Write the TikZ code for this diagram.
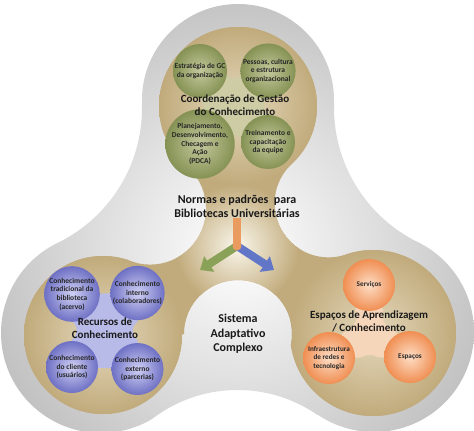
\documentclass[tikz,border=0pt]{standalone}
\usepackage{fontspec}
\setmainfont{Carlito}
\usetikzlibrary{arrows.meta}

\definecolor{greyrim}{RGB}{190,190,190}
\definecolor{tandark}{RGB}{193,171,124}
\definecolor{tanlight}{RGB}{228,216,188}
\definecolor{tanglow}{RGB}{250,246,234}
\definecolor{olivedark}{RGB}{133,146,84}
\definecolor{olivelight}{RGB}{196,200,156}
\definecolor{olivepale}{RGB}{205,204,165}
\definecolor{bluedark}{RGB}{110,112,196}
\definecolor{bluelight}{RGB}{208,208,244}
\definecolor{bluepale}{RGB}{184,186,232}
\definecolor{orangedark}{RGB}{240,142,82}
\definecolor{orangelight}{RGB}{253,222,198}
\definecolor{orangepale}{RGB}{246,214,186}
\definecolor{arrowgreen}{RGB}{138,162,88}
\definecolor{arrowblue}{RGB}{98,118,200}
\definecolor{arroworange}{RGB}{234,156,96}

\begin{document}
\begin{tikzpicture}[x=1pt, y=1pt,
  title/.style={font=\fontsize{11}{13}\selectfont\bfseries, align=center, text=black!90},
  bigtitle/.style={title, font=\fontsize{12}{14.5}\selectfont\bfseries},
  ball/.style={circle, inner sep=0pt, minimum size=52pt, shade, align=center, text=black!85, font=\fontsize{7.5}{8.7}\selectfont\bfseries},
  greenball/.style={ball, minimum size=54pt, inner color=olivelight, outer color=olivedark},
  blueball/.style={ball, inner color=bluelight, outer color=bluedark},
  orangeball/.style={ball, font=\fontsize{7.2}{8.5}\selectfont\bfseries, inner color=orangelight, outer color=orangedark},
  flow/.style={line width=8pt, -{Triangle[width=18pt,length=11pt]}}]

  \useasboundingbox (0,0) rectangle (474,-431);

  % grey body with three white bays
  \begin{scope}[even odd rule]
    \clip (-200,200) rectangle (700,-700)
      (-8,-108) circle (150) (484,-107.5) circle (150) (237.5,-530.4) circle (140.4);
    \begin{scope}[nonzero rule]
      \clip (238,-100) circle (96) (101,-333) circle (100) (374,-332) circle (100)
        (238,-100) -- (-8,-108) -- (101,-333) -- (237.5,-530.4) -- (374,-332) -- (484,-107.5) -- cycle;
      \shade[inner color=white, outer color=greyrim] (238,-250) circle (275);
    \end{scope}
  \end{scope}

  % tan flask
  \begin{scope}[even odd rule]
    \clip (-200,200) rectangle (700,-700)
      (150.1,-208.6) circle (56) (328.6,-203.4) circle (54) (238,-334) circle (54);
    \begin{scope}[nonzero rule]
      \clip (238,-106) circle (79) (103,-335) circle (79) (373,-333) circle (83)
        (238,-106) -- (150.1,-208.6) -- (103,-335) -- (238,-334) -- (373,-333) -- (328.6,-203.4) -- cycle;
      \fill[tandark] (0,0) rectangle (474,-431);
      \shade[inner color=tanlight, outer color=tandark] (238,-106) circle (79);
      \shade[inner color=tanlight, outer color=tandark] (103,-335) circle (79);
      \shade[inner color=tanlight, outer color=tandark] (373,-333) circle (83);
      \shade[inner color=tanglow, outer color=tandark] (237,-246) circle (62);
    \end{scope}
  \end{scope}

  % pale crosses between the balls
  \begin{scope}[even odd rule]
    \clip (-200,200) rectangle (700,-700)
      (234,-71) circle (8) (234,-143) circle (8) (194,-107.5) circle (10) (274,-106.5) circle (10);
    \fill[olivepale] (200,-71) -- (268,-71) -- (268,-142) -- (200,-144) -- cycle;
  \end{scope}
  \begin{scope}[even odd rule]
    \clip (-200,200) rectangle (700,-700)
      (104.8,-284.4) circle (8) (104.8,-377.1) circle (8) (65.9,-330.5) circle (11) (143.6,-331) circle (11);
    \fill[bluepale] (72,-294) -- (137.5,-293) -- (137.5,-369) -- (72,-367) -- cycle;
  \end{scope}
  \begin{scope}[even odd rule]
    \clip (-200,200) rectangle (700,-700)
      (339.6,-316) circle (17) (399.4,-315) circle (17) (369.5,-372) circle (17);
    \fill[orangepale] (369,-285) -- (329,-358) -- (410,-357) -- cycle;
  \end{scope}

  % balls
  \node[greenball] (estrategia) at (200,-71) {Estratégia de GC\\da organização};
  \node[greenball] (pessoas) at (268,-71) {Pessoas, cultura\\e estrutura\\organizacional};
  \node[greenball] (planejamento) at (200,-144) {Planejamento,\\Desenvolvimento,\\Checagem e\\Ação\\(PDCA)};
  \node[greenball] (treinamento) at (268,-142) {Treinamento e\\capacitação\\da equipe};

  \node[blueball] (acervo) at (72,-294) {Conhecimento\\tradicional da\\biblioteca\\(acervo)};
  \node[blueball] (colaboradores) at (137.5,-293) {Conhecimento\\interno\\(colaboradores)};
  \node[blueball] (usuarios) at (72,-367) {Conhecimento\\do cliente\\(usuários)};
  \node[blueball] (parcerias) at (137.5,-369) {Conhecimento\\externo\\(parcerias)};

  \node[orangeball] (servicos) at (369,-285) {Serviços};
  \node[orangeball] (infra) at (329,-358) {Infraestrutura\\de redes e\\tecnologia};
  \node[orangeball] (espacos) at (410,-357) {Espaços};

  % arrows out of the hub
  \coordinate (hub) at (237,-246);
  \coordinate (stemtop) at (237,-218);
  \coordinate (tipgreen) at (200,-270);
  \coordinate (tipblue) at (274,-270);
  \draw[flow, arrowgreen] (hub) -- (tipgreen);
  \draw[flow, arrowblue] (hub) -- (tipblue);
  \draw[line width=8pt, arroworange] (stemtop) -- (hub);
  \fill[arroworange] (hub) circle (4.5);

  % titles
  \node[title] (coordenacao) at (235,-105.5) {Coordenação de Gestão\\do Conhecimento};
  \node[bigtitle] (normas) at (237,-206.5) {Normas e padrões~ para\\Bibliotecas Universitárias};
  \node[title] (recursos) at (105,-328.5) {Recursos de\\Conhecimento};
  \node[title] (aprendizagem) at (369,-321.5) {Espaços de Aprendizagem\\/ Conhecimento};
  \node[bigtitle] (sistema) at (238,-334) {Sistema\\Adaptativo\\Complexo};

\end{tikzpicture}
\end{document}
